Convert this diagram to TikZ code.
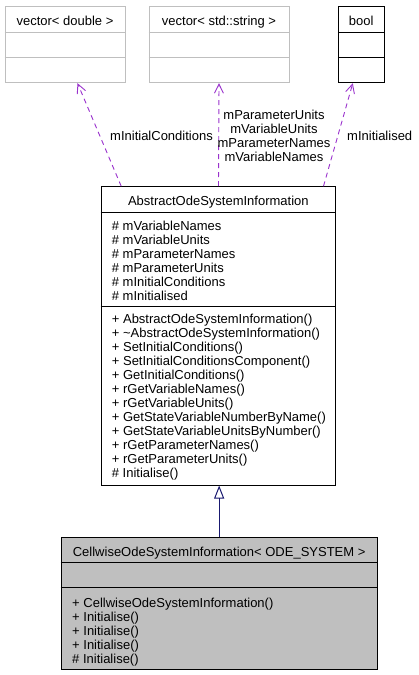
\documentclass[tikz,border=0pt]{standalone}
\usepackage{fontspec}
\setmainfont{Liberation Sans}
\usetikzlibrary{arrows.meta}
\definecolor{edgepurple}{HTML}{9A32CD}
\definecolor{boxgray}{HTML}{BFBFBF}
\definecolor{navyline}{HTML}{191970}
\begin{document}
\begin{tikzpicture}[x=1pt,y=-1pt,
  font=\fontsize{13}{14}\selectfont,
  lightbox/.style={draw=boxgray, line width=1pt, inner sep=0pt, fill=white},
  darkbox/.style={draw=black, line width=1pt, inner sep=0pt},
  lightsep/.style={draw=boxgray, line width=1pt},
  darksep/.style={draw=black, line width=1pt},
  txt/.style={inner sep=0pt, anchor=base west},
  ctxt/.style={inner sep=0pt, anchor=base},
  usesedge/.style={draw=edgepurple, line width=0.9pt, dash pattern=on 5pt off 4pt,
    -{Straight Barb[length=9pt,width=9pt,line width=0.9pt]}},
  inheritedge/.style={draw=navyline, line width=1pt,
    -{Triangle[open,length=13pt,width=10pt,line width=1pt]}}
]
\useasboundingbox (0,0) rectangle (419,675);

% ---- top classes ----
\node[lightbox, minimum width=120pt, minimum height=76pt] (vd) at (65,44.7) {};
\draw[lightsep] (vd.west |- 0,32.3) -- (vd.east |- 0,32.3);
\draw[lightsep] (vd.west |- 0,57.7) -- (vd.east |- 0,57.7);
\node[ctxt] (vdt) at (65,25.5) {vector< double >};

\node[lightbox, minimum width=140pt, minimum height=76pt] (vs) at (219,44.7) {};
\draw[lightsep] (vs.west |- 0,32.3) -- (vs.east |- 0,32.3);
\draw[lightsep] (vs.west |- 0,57.7) -- (vs.east |- 0,57.7);
\node[ctxt] (vst) at (219,25.5) {vector< std::string >};

\node[darkbox, minimum width=45.7pt, minimum height=76pt] (bool) at (361.15,44.7) {};
\draw[darksep] (bool.west |- 0,32.3) -- (bool.east |- 0,32.3);
\draw[darksep] (bool.west |- 0,57.7) -- (bool.east |- 0,57.7);
\node[ctxt] (boolt) at (361.15,25.5) {bool};

% ---- main class ----
\node[darkbox, fill=white, minimum width=234.7pt, minimum height=298.3pt] (main) at (218.35,335.85) {};
\draw[darksep] (main.west |- 0,212.7) -- (main.east |- 0,212.7);
\draw[darksep] (main.west |- 0,306) -- (main.east |- 0,306);
\node[ctxt] (maint) at (218.35,205.7) {AbstractOdeSystemInformation};
\node[txt] (a1) at (111.7,230) {\# mVariableNames};
\node[txt] (a2) at (111.7,244) {\# mVariableUnits};
\node[txt] (a3) at (111.7,258) {\# mParameterNames};
\node[txt] (a4) at (111.7,272) {\# mParameterUnits};
\node[txt] (a5) at (111.7,286) {\# mInitialConditions};
\node[txt] (a6) at (111.7,300) {\# mInitialised};
\node[txt] (m1) at (111.7,323.5) {+ AbstractOdeSystemInformation()};
\node[txt] (m2) at (111.7,337.5) {+ \textasciitilde AbstractOdeSystemInformation()};
\node[txt] (m3) at (111.7,351.5) {+ SetInitialConditions()};
\node[txt] (m4) at (111.7,365.5) {+ SetInitialConditionsComponent()};
\node[txt] (m5) at (111.7,379.5) {+ GetInitialConditions()};
\node[txt] (m6) at (111.7,393.5) {+ rGetVariableNames()};
\node[txt] (m7) at (111.7,407.5) {+ rGetVariableUnits()};
\node[txt] (m8) at (111.7,421.5) {+ GetStateVariableNumberByName()};
\node[txt] (m9) at (111.7,435.5) {+ GetStateVariableUnitsByNumber()};
\node[txt] (m10) at (111.7,449.5) {+ rGetParameterNames()};
\node[txt] (m11) at (111.7,463.5) {+ rGetParameterUnits()};
\node[txt] (m12) at (111.7,477.5) {\# Initialise()};

% ---- derived class ----
\node[darkbox, fill=boxgray, minimum width=316.3pt, minimum height=131.8pt] (bot) at (219.15,603.4) {};
\draw[darksep] (bot.west |- 0,562.7) -- (bot.east |- 0,562.7);
\draw[darksep] (bot.west |- 0,587.7) -- (bot.east |- 0,587.7);
\node[ctxt] (bott) at (219.15,556) {CellwiseOdeSystemInformation< ODE\_SYSTEM >};
\node[txt] (b1) at (72,607.5) {+ CellwiseOdeSystemInformation()};
\node[txt] (b2) at (72,621.5) {+ Initialise()};
\node[txt] (b3) at (72,635.5) {+ Initialise()};
\node[txt] (b4) at (72,649.5) {+ Initialise()};
\node[txt] (b5) at (72,663.5) {\# Initialise()};

% ---- connectors ----
\draw[usesedge] ([xshift=20.7pt]main.north west) -- ([xshift=73pt]vd.south west);
\draw[usesedge] ([xshift=118pt]main.north west) -- (vs.south);
\draw[usesedge] ([xshift=-12.7pt]main.north east) -- ([xshift=15pt]bool.south west);
\draw[inheritedge] (bot.north) -- (bot.north |- main.south);

% ---- edge labels ----
\node[txt] (l1) at (110,140.5) {mInitialConditions};
\node[ctxt] (l2a) at (274,119) {mParameterUnits};
\node[ctxt] (l2b) at (274,133) {mVariableUnits};
\node[ctxt] (l2c) at (274,147) {mParameterNames};
\node[ctxt] (l2d) at (274,161) {mVariableNames};
\node[txt] (l3) at (347,140.5) {mInitialised};
\end{tikzpicture}
\end{document}
